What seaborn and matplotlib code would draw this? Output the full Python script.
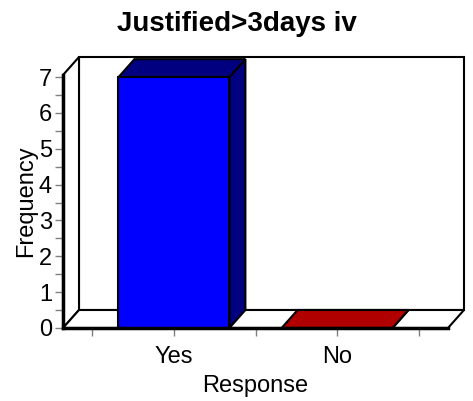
import matplotlib
matplotlib.use('Agg')
import matplotlib.pyplot as plt
import seaborn as sns
import pandas as pd
from matplotlib.patches import Polygon

# data
responses = ['Yes', 'No']
counts = [7, 0]
front_colours = ['#0000ff', '#b00000']
shade_colours = ['#000080', '#b00000']

sns.set_style('white')
plt.rcParams['font.family'] = ['Liberation Sans', 'DejaVu Sans']
plt.rcParams['text.color'] = 'black'
plt.rcParams['axes.labelcolor'] = 'black'

fig = plt.figure(figsize=(4.73, 4.01), dpi=100)
ax = fig.add_axes([63 / 473, 73 / 401, 385 / 473, 253 / 401])
ax.patch.set_visible(False)

df = pd.DataFrame({'Response': responses, 'Frequency': counts})
sns.barplot(data=df, x='Response', y='Frequency', hue='Response',
            palette=front_colours, legend=False, width=0.68, saturation=1,
            edgecolor='black', linewidth=1.5, ax=ax, zorder=5)

x0, x1 = -0.68, 1.68
y0, y1 = 0, 7.06
ax.set_xlim(x0, x1)
ax.set_ylim(y0, y1)

# depth of the fake 3d box, in pixels -> data units
ddx = 16 * (x1 - x0) / 385
ddy = 18 * (y1 - y0) / 253

def face(pts, fc, z, lw=1.5):
    ax.add_patch(Polygon(pts, closed=True, facecolor=fc, edgecolor='black',
                         linewidth=lw, zorder=z, clip_on=False,
                         joinstyle='miter'))

# back wall, left wall, floor
face([(x0 + ddx, y0 + ddy), (x1 + ddx, y0 + ddy),
      (x1 + ddx, y1 + ddy), (x0 + ddx, y1 + ddy)], 'white', 1)
face([(x0, y0), (x0 + ddx, y0 + ddy), (x0 + ddx, y1 + ddy), (x0, y1)], 'white', 1.5)
face([(x0, y0), (x1, y0), (x1 + ddx, y0 + ddy), (x0 + ddx, y0 + ddy)], 'white', 1.5)

# top and side faces of the bars
for p, sc in zip(sorted(ax.patches[:len(responses)], key=lambda r: r.get_x()), shade_colours):
    bx, bw, bh = p.get_x(), p.get_width(), p.get_height()
    face([(bx + bw, 0), (bx + bw + ddx, ddy), (bx + bw + ddx, bh + ddy), (bx + bw, bh)], sc, 4)
    face([(bx, bh), (bx + bw, bh), (bx + bw + ddx, bh + ddy), (bx + ddx, bh + ddy)], sc, 4)

# thick front edges
for s in ['top', 'right']:
    ax.spines[s].set_visible(False)
for s in ['left', 'bottom']:
    ax.spines[s].set_visible(True)
    ax.spines[s].set_linewidth(2.5)
    ax.spines[s].set_color('black')
    ax.spines[s].set_zorder(6)

ax.set_xticks([0, 1])
ax.set_xticklabels(responses)
ax.set_xticks([-0.5, 0.5, 1.5], minor=True)
ax.set_yticks(range(0, 8))
ax.set_yticks([i + 0.5 for i in range(7)], minor=True)
ax.tick_params(axis='both', which='both', direction='out', color='gray',
               labelcolor='black', width=1, length=6, labelsize=17,
               bottom=True, left=True)
ax.tick_params(axis='x', which='both', pad=7)
ax.tick_params(axis='y', which='both', pad=2)

ax.set_xlabel('Response', fontsize=17)
ax.xaxis.set_label_coords(0.5, -0.23)
ax.xaxis.label.set_verticalalignment('center')
ax.set_ylabel('Frequency', fontsize=17)
ax.yaxis.set_label_coords(-0.097, 0.5)
ax.yaxis.label.set_verticalalignment('center')

fig.suptitle('Justified>3days iv', x=0.5, y=1 - 24 / 401, va='center',
             fontsize=20, fontweight='bold', color='black')

fig.savefig('out.png', dpi=100)
